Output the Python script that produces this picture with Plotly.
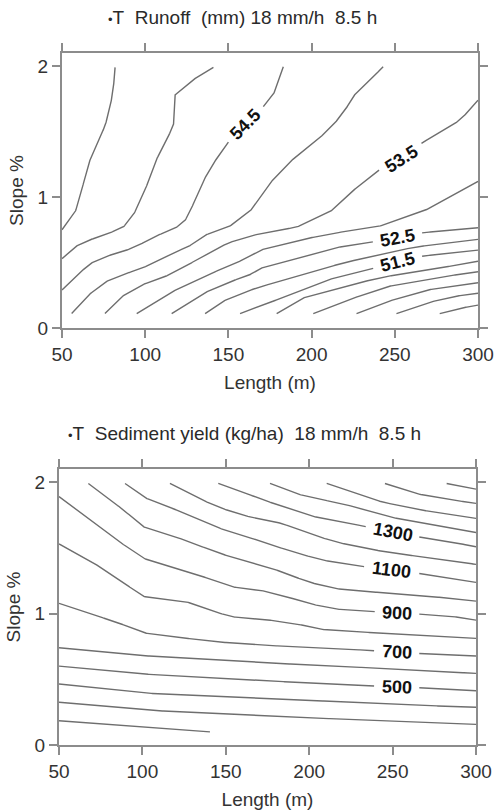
import numpy as np
import plotly.graph_objects as go

# ---------------- data ----------------
length_ticks = [50, 100, 150, 200, 250, 300]
slope_ticks = [0, 1, 2]

# Runoff (mm) contour lines: one x list and one y list per level
runoff_levels = [55.5, 55.0, 54.5, 54.0, 53.5, 53.0, 52.5, 52.0, 51.5, 51.0, 50.5, 50.0, 49.5, 49.0]
runoff_x = [
    [50, 54, 57.8, 60.8, 65.8, 71, 75.8, 78.8, 80.8, 81.9],
    [50, 57.8, 65.8, 75.8, 86.8, 92.8, 97, 101, 106, 112, 117, 118, 128, 141],
    [50, 57.8, 66.8, 75.8, 85.9, 95.9, 105.9, 117.9, 123.9, 127, 134, 140, 150, 160, 171, 177, 183],
    [55.8, 65.8, 75.8, 85.9, 97.9, 105.9, 115.9, 125.9, 135.9, 150, 163, 169, 176, 187, 203, 213, 220, 225, 235, 243],
    [75.8, 85.9, 97.9, 109.9, 121.9, 135.9, 150, 162, 175, 191, 211, 223, 241, 254, 267, 285, 291, 300],
    [94.9, 105, 116, 128, 140, 154, 169, 189, 211, 239, 267, 285, 300],
    [115.9, 125.9, 135.9, 150, 162, 169, 191, 213, 238, 251.5, 267, 300],
    [136, 146, 158, 169, 193, 217, 239, 263, 281, 300],
    [157, 167, 178, 189, 209, 237, 251.5, 267, 300],
    [179, 195, 219, 243, 269, 300],
    [201, 221, 245, 273, 300],
    [227, 245, 269, 300],
    [251, 269, 285, 300],
    [277, 289, 300],
]
runoff_y = [
    [0.75, 0.82, 0.88, 1.0, 1.25, 1.41, 1.54, 1.68, 1.82, 1.99],
    [0.53, 0.62, 0.67, 0.71, 0.77, 0.86, 0.97, 1.09, 1.27, 1.41, 1.55, 1.78, 1.89, 1.99],
    [0.29, 0.39, 0.49, 0.545, 0.58, 0.63, 0.70, 0.76, 0.82, 0.89, 1.10, 1.24, 1.42, 1.55, 1.69, 1.78, 1.995],
    [0.11, 0.25, 0.35, 0.405, 0.455, 0.505, 0.57, 0.62, 0.71, 0.77, 0.89, 1.0, 1.12, 1.27, 1.43, 1.55, 1.66, 1.77, 1.89, 1.995],
    [0.11, 0.24, 0.33, 0.38, 0.455, 0.557, 0.65, 0.70, 0.735, 0.77, 0.885, 1.03, 1.21, 1.29, 1.42, 1.55, 1.61, 1.74],
    [0.11, 0.19, 0.275, 0.35, 0.42, 0.49, 0.595, 0.66, 0.72, 0.77, 0.89, 1.015, 1.12],
    [0.11, 0.19, 0.27, 0.35, 0.40, 0.455, 0.53, 0.61, 0.66, 0.685, 0.728, 0.766],
    [0.11, 0.20, 0.265, 0.315, 0.40, 0.49, 0.557, 0.62, 0.647, 0.677],
    [0.11, 0.16, 0.21, 0.265, 0.366, 0.455, 0.505, 0.55, 0.595],
    [0.11, 0.23, 0.315, 0.39, 0.44, 0.51],
    [0.11, 0.21, 0.315, 0.38, 0.43],
    [0.11, 0.20, 0.29, 0.346],
    [0.11, 0.19, 0.24, 0.265],
    [0.11, 0.15, 0.175],
]
runoff_label_levels = [54.5, 53.5, 52.5, 51.5]
runoff_label_x = [160.4, 254, 251.5, 251.5]

# Sediment yield (kg/ha) contour lines
sediment_levels = [200, 300, 400, 500, 600, 700, 800, 900, 1000, 1100, 1200, 1300, 1400, 1500, 1600, 1700]
sediment_x = [
    [50, 100.5, 140.5],
    [50, 100.5, 167.5, 207.5, 247.5, 300],
    [50, 100.5, 167.5, 207.5, 247.5, 300],
    [50, 100.5, 170, 207.5, 239.5, 265.4, 300],
    [50, 100.5, 170, 207.5, 247.5, 300],
    [50, 67.6, 83.6, 100.5, 113.5, 127.5, 143.5, 170, 207.5, 239.5, 265.4, 300],
    [50, 67.6, 83.6, 100.5, 113.5, 127.5, 139.5, 153.5, 170, 183.5, 195.5, 205.5, 219.5, 247.5, 271.5, 300],
    [50, 67.6, 83.6, 100.5, 113.5, 127.5, 145.5, 155.5, 170, 183.5, 199.5, 215.5, 240.5, 265.4, 283.4, 300],
    [67.6, 77.6, 87.6, 100.5, 113.5, 127.5, 145.5, 159.5, 170, 183.5, 199.5, 215.5, 231.5, 251.5, 275.5, 300],
    [89.6, 101.6, 113.5, 127.5, 141.5, 155.5, 170, 187.5, 207.5, 233.5, 265.4, 283.4, 300],
    [116.5, 131.5, 145.5, 159.5, 170, 183.5, 199.5, 215.5, 233.5, 251.5, 267.5, 283.5, 300],
    [145.5, 159.5, 170, 187.5, 203.5, 219.5, 234.5, 265.4, 283.4, 300],
    [176.5, 191.5, 203.5, 219.5, 233.5, 247.5, 263.5, 279.5, 300],
    [210.5, 227.5, 243.5, 261.5, 279.5, 300],
    [245.4, 263.4, 279.4, 300],
    [282.4, 300],
]
sediment_y = [
    [0.185, 0.139, 0.10],
    [0.325, 0.266, 0.223, 0.203, 0.183, 0.157],
    [0.464, 0.395, 0.36, 0.335, 0.31, 0.287],
    [0.60, 0.54, 0.49, 0.469, 0.449, 0.436, 0.413],
    [0.74, 0.68, 0.625, 0.608, 0.578, 0.545],
    [1.078, 1.0, 0.94, 0.854, 0.83, 0.81, 0.786, 0.76, 0.74, 0.717, 0.697, 0.677],
    [1.53, 1.41, 1.28, 1.13, 1.11, 1.085, 1.03, 0.975, 0.96, 0.938, 0.913, 0.882, 0.867, 0.849, 0.831, 0.811],
    [1.89, 1.72, 1.57, 1.42, 1.37, 1.32, 1.24, 1.20, 1.18, 1.14, 1.077, 1.034, 1.014, 0.996, 0.983, 0.95],
    [1.99, 1.89, 1.80, 1.66, 1.61, 1.55, 1.46, 1.41, 1.375, 1.318, 1.24, 1.19, 1.17, 1.153, 1.127, 1.095],
    [1.99, 1.88, 1.825, 1.75, 1.67, 1.61, 1.555, 1.48, 1.407, 1.356, 1.306, 1.268, 1.237],
    [1.99, 1.89, 1.81, 1.75, 1.72, 1.686, 1.61, 1.546, 1.496, 1.458, 1.432, 1.407, 1.374],
    [1.99, 1.93, 1.875, 1.80, 1.736, 1.70, 1.66, 1.584, 1.55, 1.508],
    [1.99, 1.914, 1.876, 1.838, 1.787, 1.736, 1.70, 1.66, 1.617],
    [1.99, 1.914, 1.85, 1.80, 1.762, 1.724],
    [1.99, 1.914, 1.876, 1.838],
    [1.99, 1.947],
]
sediment_label_levels = [1300, 1100, 900, 700, 500]
sediment_label_x = [250, 249.5, 252.4, 252.4, 252.4]

BULLET = "<span style='font-size:13px'>\u2022</span>"
titles = [BULLET + "T\u00a0 Runoff\u00a0 (mm) 18 mm/h\u00a0 8.5 h",
          BULLET + "T\u00a0 Sediment yield (kg/ha)\u00a0 18 mm/h\u00a0 8.5 h"]

# ---------------- layout geometry ----------------
W, H = 495, 812
FONT = "Liberation Sans, Arial, Helvetica, sans-serif"
FS = 19
XR = [50, 300]
YR = [0, 2.1]
# positions in window pixels
panels = [dict(left=62, right=478, top=53, bottom=328, title_xy=(242, 17)),
          dict(left=59, right=476, top=469, bottom=745, title_xy=(244, 433))]
LINE_C = "#6e6e6e"
AX_C = "#8c8c8c"


def fmt(v):
    return ("%g" % v)


def text_width(s):
    return sum(0.278 if ch == "." else 0.556 for ch in s) * FS


def build(levels, xs_list, ys_list, lab_levels, lab_x, p):
    sx = (p["right"] - p["left"]) / (XR[1] - XR[0])
    sy = (p["bottom"] - p["top"]) / (YR[1] - YR[0])
    labels = {}
    for lv, lx in zip(lab_levels, lab_x):
        i = levels.index(lv)
        xs, ys = np.array(xs_list[i], float), np.array(ys_list[i], float)
        ly = float(np.interp(lx, xs, ys))
        y1, y2 = np.interp(lx - 4, xs, ys), np.interp(lx + 4, xs, ys)
        ang = float(np.degrees(np.arctan2(-(y2 - y1) * sy, 8 * sx)))
        labels[lv] = (lx, ly, ang, fmt(lv))
    X, Y = [], []
    for lv, xs, ys in zip(levels, xs_list, ys_list):
        dx, dy = [], []
        for k in range(len(xs) - 1):
            n = max(2, int(np.hypot((xs[k + 1] - xs[k]) * sx, (ys[k + 1] - ys[k]) * sy)))
            t = np.linspace(0, 1, n, endpoint=False)
            dx.extend(xs[k] + (xs[k + 1] - xs[k]) * t)
            dy.extend(ys[k] + (ys[k + 1] - ys[k]) * t)
        dx.append(xs[-1]); dy.append(ys[-1])
        dx, dy = np.array(dx), np.array(dy)
        mask = np.zeros(len(dx), bool)
        if lv in labels:
            lx, ly, ang, txt = labels[lv]
            a = np.radians(ang)
            px, py = (dx - lx) * sx, -(dy - ly) * sy
            u = px * np.cos(a) + py * np.sin(a)
            v = -px * np.sin(a) + py * np.cos(a)
            mask = (np.abs(u) < text_width(txt) / 2 + 6) & (np.abs(v) < 10)
        for xv, yv, m in zip(dx, dy, mask):
            X.append(None if m else float(xv))
            Y.append(None if m else float(yv))
        X.append(None); Y.append(None)
    return X, Y, labels


fig = go.Figure()
annotations = []
data_sets = [(runoff_levels, runoff_x, runoff_y, runoff_label_levels, runoff_label_x),
             (sediment_levels, sediment_x, sediment_y, sediment_label_levels, sediment_label_x)]
for k, (p, ds) in enumerate(zip(panels, data_sets)):
    X, Y, labels = build(*ds, p)
    xa = "x" if k == 0 else "x2"
    ya = "y" if k == 0 else "y2"
    fig.add_trace(go.Scatter(x=X, y=Y, mode="lines", xaxis=xa, yaxis=ya,
                             line=dict(color=LINE_C, width=1.4), hoverinfo="skip",
                             showlegend=False, connectgaps=False))
    for lv, (lx, ly, ang, txt) in labels.items():
        annotations.append(dict(x=lx, y=ly, xref=xa, yref=ya, text="<b>" + txt + "</b>",
                                showarrow=False, textangle=ang, xanchor="center", yanchor="middle",
                                font=dict(family=FONT, size=FS - 1, color="#111111")))
    tx, ty = p["title_xy"]
    annotations.append(dict(x=tx / W, y=1 - ty / H, xref="paper", yref="paper",
                            text=titles[k], showarrow=False, xanchor="center", yanchor="middle",
                            font=dict(family=FONT, size=FS, color="#2a2a2a")))

axis_common = dict(showline=True, linecolor=AX_C, linewidth=2, mirror="ticks",
                   ticks="outside", ticklen=8, tickwidth=2, tickcolor=AX_C,
                   showgrid=False, zeroline=False,
                   tickfont=dict(family=FONT, size=FS, color="#333333"))

layout = dict(width=W, height=H, margin=dict(l=0, r=0, t=0, b=0),
              paper_bgcolor="white", plot_bgcolor="white", template="none",
              showlegend=False, annotations=annotations,
              font=dict(family=FONT, size=FS, color="#333333"))
for k, p in enumerate(panels):
    sfx = "" if k == 0 else "2"
    layout["xaxis" + sfx] = dict(axis_common,
                                 domain=[p["left"] / W, p["right"] / W],
                                 range=XR, tickvals=length_ticks,
                                 anchor="y" + sfx,
                                 title=dict(text="Length (m)", standoff=12,
                                            font=dict(family=FONT, size=FS, color="#333333")))
    layout["yaxis" + sfx] = dict(axis_common,
                                 domain=[1 - p["bottom"] / H, 1 - p["top"] / H],
                                 range=YR, tickvals=slope_ticks,
                                 anchor="x" + sfx,
                                 title=dict(text="Slope %", standoff=9,
                                            font=dict(family=FONT, size=FS, color="#333333")))
fig.update_layout(**layout)
# the page's default 8 px body margin would push the figure off the window
fig.write_html("out.html", config={"displayModeBar": False, "staticPlot": True},
               post_script="document.body.style.margin='0';document.body.style.overflow='hidden';")
